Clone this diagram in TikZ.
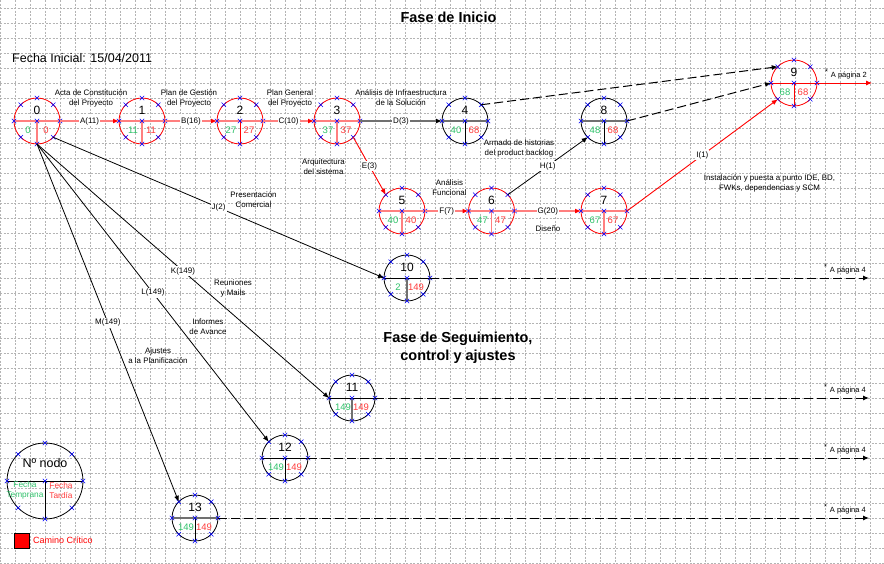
\documentclass[tikz,border=0pt]{standalone}
\usepackage{fontspec}
\setmainfont{Liberation Sans}
\usetikzlibrary{arrows.meta,calc}
\definecolor{salmon}{HTML}{FF7F7F}
\definecolor{gverde}{HTML}{2EC26A}
\definecolor{rrojo}{HTML}{FF3B3B}
\definecolor{gridc}{HTML}{B4B4B4}
\definecolor{gris}{HTML}{707070}
\tikzset{
  evc/.style={circle,minimum size=46pt,inner sep=0pt,outer sep=0pt,line width=0.8pt},
  crit/.style={draw=salmon,line width=1.8pt},
  redthin/.style={draw=red,line width=0.9pt},
  blkthin/.style={draw=black,line width=0.8pt},
  gthick/.style={draw=gris,line width=1.8pt},
  numf/.style={font=\fontsize{12}{14}\selectfont,inner sep=0pt},
  earlyf/.style={text=gverde,font=\fontsize{9.5}{11}\selectfont,inner sep=0pt},
  latef/.style={text=rrojo,font=\fontsize{9.5}{11}\selectfont,inner sep=0pt},
  lbl/.style={fill=white,text=black,inner sep=1pt,font=\fontsize{8}{9}\selectfont},
  note/.style={align=center,text=black,font=\fontsize{7.9}{10}\selectfont,inner sep=0pt},
  pag/.style={text=black,font=\fontsize{7.5}{9}\selectfont,inner sep=0pt},
  arrR/.style={-{Latex[length=6pt,width=5pt,color=red]}},
  arrK/.style={-{Latex[length=6pt,width=5pt,color=black]}},
  dsh/.style={draw=black,line width=1pt,dash pattern=on 9pt off 4pt},
  gridl/.style={draw=gridc,line width=0.55pt,dash pattern=on 2pt off 1.5pt},
  xm/.pic={\draw[blue,line width=0.5pt] (-2.2,-2.2)--(2.2,2.2) (-2.2,2.2)--(2.2,-2.2);}
}
\newcommand\evento[9]{%
  \node[evc,draw=#7] (#1) at (#2,#3) {};
  \draw[#8] (#1.west) -- (#1.east);
  \draw[#9] (#1.center) -- (#1.south);
  \node[numf] (#1-n) at ($(#1.center)+(0,-11)$) {#4};
  \node[earlyf] (#1-e) at ($(#1.center)+(-9,9.5)$) {#5};
  \node[latef] (#1-l) at ($(#1.center)+(9,9.5)$) {#6};
  \foreach \a in {north,south,east,west,north east,north west,south east,south west,center}{\pic at (#1.\a) {xm};}
}
\begin{document}
\begin{tikzpicture}[x=1pt,y=-1pt]
\useasboundingbox (0,0) rectangle (884,563);
\fill[white] (0,0) rectangle (884,563);
\foreach \x in {0,15,...,884} \draw[gridl] (\x,0)--(\x,563);
\foreach \y in {8,23,...,563} \draw[gridl] (0,\y)--(884,\y);

% titles
\node[font=\bfseries\fontsize{14.5}{17}\selectfont,inner sep=0pt] (tit1) at (448.5,17.5) {Fase de Inicio};
\node[font=\bfseries\fontsize{14.5}{18}\selectfont,align=center,inner sep=0pt] (tit2) at (458,348) {Fase de Seguimiento,\\control y ajustes};
\node[font=\fontsize{12.5}{14}\selectfont,anchor=west,inner sep=0pt] (fi) at (12,58) {Fecha Inicial: 15/04/2011};

% events
\evento{n0}{37}{121}{0}{0}{0}{red}{crit}{crit}
\evento{n1}{142}{121}{1}{11}{11}{red}{crit}{crit}
\evento{n2}{240}{121}{2}{27}{27}{red}{crit}{redthin}
\evento{n3}{337}{121}{3}{37}{37}{red}{crit}{crit}
\evento{n4}{465}{121}{4}{40}{68}{black}{gthick}{blkthin}
\evento{n8}{604}{121}{8}{48}{68}{black}{gthick}{blkthin}
\evento{n9}{794}{83}{9}{68}{68}{red}{redthin}{redthin}
\evento{n5}{402}{211}{5}{40}{40}{red}{crit}{crit}
\evento{n6}{491.5}{211}{6}{47}{47}{red}{crit}{crit}
\evento{n7}{604}{211}{7}{67}{67}{red}{crit}{crit}
\evento{n10}{407}{278}{10}{2}{149}{black}{blkthin}{gthick}
\evento{n11}{352}{398}{11}{149}{149}{black}{blkthin}{gthick}
\evento{n12}{285}{458}{12}{149}{149}{black}{blkthin}{blkthin}
\evento{n13}{195}{518}{13}{149}{149}{black}{gthick}{blkthin}

% connectors
\draw[crit,arrR] (n0.east) -- node[lbl] (lA) {A(11)} (n1.west);
\draw[crit,arrR] (n1.east) -- node[lbl] (lB) {B(16)} (n2.west);
\draw[crit,arrR] (n2.east) -- node[lbl] (lC) {C(10)} (n3.west);
\draw[gthick,arrK] (n3.east) -- node[lbl] (lD) {D(3)} (n4.west);
\draw[redthin,arrR] (n3.south east) -- node[lbl] (lE) {E(3)} (n5.north west);
\draw[crit,arrR] (n5.east) -- node[lbl] (lF) {F(7)} (n6.west);
\draw[crit,arrR] (n6.east) -- node[lbl] (lG) {G(20)} (n7.west);
\draw[blkthin,arrK] (n6.north east) -- node[lbl] (lH) {H(1)} (n8.south west);
\draw[redthin,arrR] (n7.east) -- node[lbl] (lI) {I(1)} (n9.south west);
\draw[dsh,arrK] (n4.north east) -- (n9.north west);
\draw[dsh,arrK] (n8.east) -- (n9.west);
\draw[blkthin,arrK] (n0.south east) -- node[lbl] (lJ) {J(2)} (n10.west);
\draw[blkthin,arrK] (n0.south) -- node[lbl] (lK) {K(149)} (n11.west);
\draw[blkthin,arrK] (n0.south) -- node[lbl] (lL) {L(149)} (n12.north west);
\draw[blkthin,arrK] (n0.south) -- node[lbl] (lM) {M(149)} (n13.north west);

% outgoing
\coordinate (o9) at (872,83);
\coordinate (o10) at (869,278);
\coordinate (o11) at (869,398);
\coordinate (o12) at (869,458);
\coordinate (o13) at (869,518);
\draw[redthin,arrR] (n9.east) -- (o9);
\draw[dsh,arrK] (n10.east) -- (o10);
\draw[dsh,arrK] (n11.east) -- (o11);
\draw[dsh,arrK] (n12.east) -- (o12);
\draw[dsh,arrK] (n13.east) -- (o13);
\node[pag,anchor=base east] (p9) at (867,77) {\raisebox{3pt}{*}\hspace{3pt}A página 2};
\node[pag,anchor=base east] (p10) at (866,272) {\raisebox{3pt}{*}\hspace{3pt}A página 4};
\node[pag,anchor=base east] (p11) at (866,392) {\raisebox{3pt}{*}\hspace{3pt}A página 4};
\node[pag,anchor=base east] (p12) at (866,452) {\raisebox{3pt}{*}\hspace{3pt}A página 4};
\node[pag,anchor=base east] (p13) at (866,512) {\raisebox{3pt}{*}\hspace{3pt}A página 4};

% activity descriptions
\node[note] (d1) at (91,98) {Acta de Constitución\\del Proyecto};
\node[note] (d2) at (189,98) {Plan de Gestión\\del Proyecto};
\node[note] (d3) at (290,98) {Plan General\\del Proyecto};
\node[note] (d4) at (401,98) {Análisis de Infraestructura\\de la Solución};
\node[note] (d5) at (519,148) {Armado de historias\\del product backlog};
\node[note] (d6) at (323.5,166.5) {Arquitectura\\del sistema};
\node[note] (d7) at (449.5,187.5) {Análisis\\Funcional};
\node[note] (d8) at (548,229) {Diseño};
\node[note] (d9) at (769.5,183.5) {Instalación y puesta a punto IDE, BD,\\FWKs, dependencias y SCM};
\node[note] (d10) at (253.5,199.5) {Presentación\\Comercial};
\node[note] (d11) at (233,288.5) {Reuniones\\y Mails};
\node[note] (d12) at (208,327) {Informes\\de Avance};
\node[note] (d13) at (158,355.5) {Ajustes\\a la Planificación};

% legend
\node[evc,draw=black,minimum size=76pt] (leg) at (45,481) {};
\draw[blkthin] (leg.west) -- (leg.east);
\draw[blkthin] (leg.center) -- (leg.south);
\node[font=\fontsize{12.5}{14}\selectfont,inner sep=0pt] (legn) at (45,463) {Nº nodo};
\node[note,text=gverde,font=\fontsize{8.3}{10}\selectfont] (lege) at (25,490.5) {Fecha\\Temprana};
\node[note,text=rrojo,font=\fontsize{8.3}{10}\selectfont] (legl) at (61,490.5) {Fecha\\Tardía};
\foreach \a in {north,south,east,west,north east,north west,south east,south west,center}{\pic at (leg.\a) {xm};}
\node[draw=black,fill=red,minimum size=15pt,inner sep=0pt] (sq) at (22,540.5) {};
\node[text=red,font=\fontsize{9}{11}\selectfont,anchor=west,inner sep=0pt] (cc) at (33,540) {Camino Crítico};
\end{tikzpicture}
\end{document}
